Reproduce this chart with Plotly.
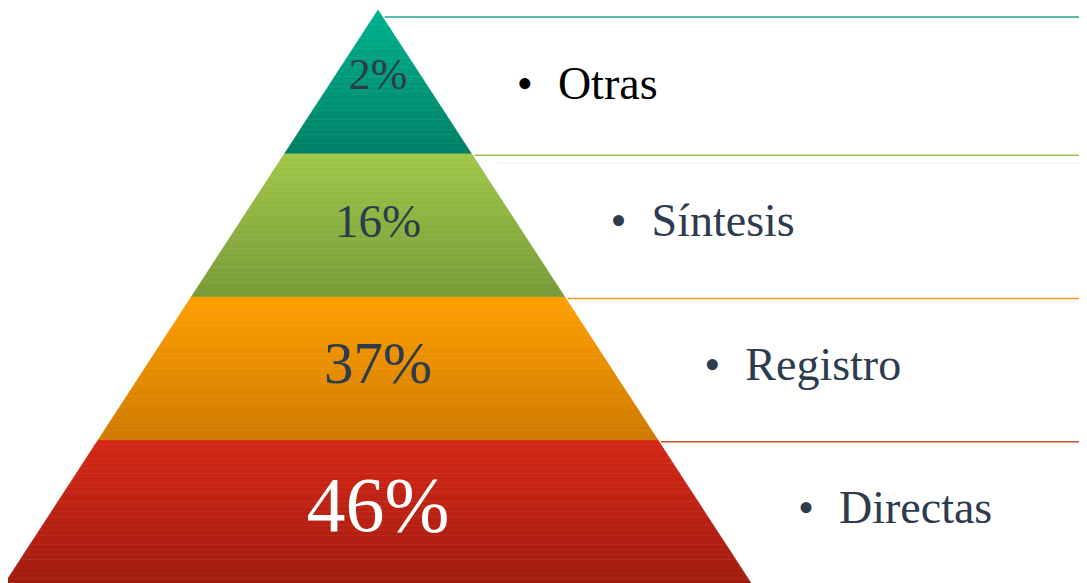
import plotly.graph_objects as go

# ---- data ----
categories = ["Directas", "Registro", "Síntesis", "Otras"]   # bottom -> top
percentages = [46, 37, 16, 2]
pct_labels = [f"{p}%" for p in percentages]

# ---- styles ----
band_top_colors = ["#d52816", "#ffa000", "#a0c84a", "#00b28e"]
band_bottom_colors = ["#a11c10", "#cf7a00", "#789a38", "#008066"]
line_colors = ["#d14a28", "#f59c1c", "#9cc450", "#1ea88c"]
pct_colors = ["#ffffff", "#2d3b4e", "#2d3b4e", "#2d3b4e"]
pct_sizes = [78, 59, 47, 44]
label_colors = ["#2d3b4e", "#2d3b4e", "#2d3b4e", "#000000"]
label_size = 46
FONT = "Liberation Serif"

W, H = 1087, 583
PAGE_OFFSET = 8                    # default body margin of the html page
apex_x, apex_y = 378, 573          # y measured upward
base_y = 0
base_half = 373
slope = base_half / (apex_y - base_y)
n = len(categories)
band_h = (apex_y - base_y) / n
STRIPS = 30


def half_width(y):
    return (apex_y - y) * slope


def hex2rgb(h):
    h = h.lstrip("#")
    return tuple(int(h[k:k + 2], 16) for k in (0, 2, 4))


def mix(c0, c1, t):
    a, b = hex2rgb(c0), hex2rgb(c1)
    return "rgb(%d,%d,%d)" % tuple(round(a[k] + (b[k] - a[k]) * t) for k in range(3))


fig = go.Figure()
shapes = []
pct_x, pct_y, bul_x, lab_x, lab_y = [], [], [], [], []
for i in range(n):
    y0 = base_y + i * band_h
    y1 = base_y + (i + 1) * band_h
    for s in range(STRIPS):
        sy0 = y0 + (y1 - y0) * s / STRIPS
        sy1 = y0 + (y1 - y0) * (s + 1) / STRIPS
        bot = sy0 - (PAGE_OFFSET + 2 if (i == 0 and s == 0) else 0)
        h0, h1 = half_width(bot), half_width(sy1)
        col = mix(band_bottom_colors[i], band_top_colors[i], (s + 0.5) / STRIPS)
        path = (f"M{apex_x - h0},{bot} L{apex_x + h0},{bot} "
                f"L{apex_x + h1},{sy1} L{apex_x - h1},{sy1} Z")
        shapes.append(dict(type="path", path=path, xref="x", yref="y",
                           fillcolor=col, line=dict(width=0.6, color=col), layer="below"))
    ly = y1 - (7 if i == n - 1 else 2)
    shapes.append(dict(type="line", xref="x", yref="y",
                       x0=apex_x + half_width(ly) + 2, x1=W + PAGE_OFFSET, y0=ly, y1=ly,
                       line=dict(width=1.5, color=line_colors[i])))
    pct_x.append(apex_x)
    pct_y.append((y0 + y1) / 2 + (4 if i == n - 1 else 0))
    bx = 806 - i * 93.7
    bul_x.append(bx)
    lab_x.append(bx + 33)
    lab_y.append((y0 + y1) / 2 + (-6 if i == n - 1 else 0))

fy = base_y + 3 * band_h - 10
shapes.append(dict(type="line", xref="x", yref="y",
                   x0=apex_x + half_width(fy) + 20, x1=W + PAGE_OFFSET, y0=fy, y1=fy,
                   line=dict(width=1.5, color="#eef3f3")))

# percentage labels
fig.add_trace(go.Scatter(
    x=pct_x, y=pct_y, mode="text", text=pct_labels, textposition="middle center",
    textfont=dict(family=FONT, size=pct_sizes, color=pct_colors),
    hoverinfo="skip", showlegend=False))
# bullets
fig.add_trace(go.Scatter(
    x=bul_x, y=lab_y, mode="text", text=["•"] * n, textposition="middle center",
    textfont=dict(family=FONT, size=label_size, color=label_colors),
    hoverinfo="skip", showlegend=False))
# category labels
fig.add_trace(go.Scatter(
    x=lab_x, y=lab_y, mode="text", text=categories, textposition="middle right",
    textfont=dict(family=FONT, size=label_size, color=label_colors),
    hoverinfo="skip", showlegend=False))

fig.update_layout(
    shapes=shapes,
    font=dict(family=FONT),
    width=W, height=H, margin=dict(l=0, r=0, t=0, b=0),
    paper_bgcolor="white", plot_bgcolor="white",
    xaxis=dict(range=[PAGE_OFFSET, W + PAGE_OFFSET], visible=False, fixedrange=True),
    yaxis=dict(range=[-PAGE_OFFSET, H - PAGE_OFFSET], visible=False, fixedrange=True),
)
fig.write_html("out.html", config={"displayModeBar": False})
